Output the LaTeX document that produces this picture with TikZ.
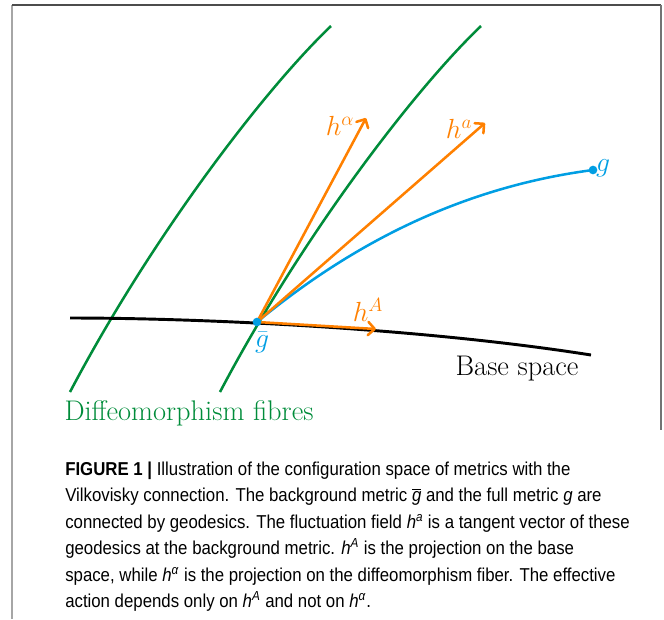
\documentclass[tikz,border=0pt]{standalone}
\usepackage{fontspec}
\newfontfamily\capfont[FakeStretch=0.9]{Liberation Sans}
\usetikzlibrary{arrows.meta}
\definecolor{fibgreen}{RGB}{0,140,58}
\definecolor{geoblue}{RGB}{0,158,227}
\definecolor{vecorange}{RGB}{255,128,0}
\begin{document}
\begin{tikzpicture}[x=0.75pt,y=-0.75pt,
  fibre/.style={draw=fibgreen,line width=1.9pt},
  baseline/.style={draw=black,line width=2.2pt},
  geo/.style={draw=geoblue,line width=1.9pt},
  vec/.style={draw=vecorange,line width=1.9pt,line cap=round,-{Straight Barb[length=5pt,width=10pt,line cap=round,line join=round]}},
  lbl/.style={inner sep=0pt,font=\fontsize{21.3}{25}\selectfont},
  capline/.style={anchor=base west,inner sep=0pt,font=\capfont\fontsize{14}{17}\selectfont},
  dotb/.style={circle,fill=geoblue,inner sep=0pt,minimum size=6.5pt}]
\useasboundingbox (0,0) rectangle (664,619);
% frame
\draw[draw=black!35,line width=1.5pt] (12,5) -- (12,619);
\draw[draw=black!70,line width=1.3pt] (12,5) -- (661,5);
\draw[draw=black!55,line width=1.2pt] (661,5) -- (661,430);
% points (positions)
\coordinate (gbc) at (257,322);
\coordinate (gc) at (593,170);
% fibres
\draw[fibre] (70,392) .. controls (150,240) and (262,92) .. (331,26);
\draw[fibre] (220,392) .. controls (300,240) and (412,92) .. (481,26);
% base space
\draw[baseline] (70,318) .. controls (200,318) and (420,328) .. (591,355);
% geodesic
\draw[geo] (gbc) .. controls (330,262) and (440,190) .. (gc);
% vectors
\coordinate (tal) at (366,118);
\coordinate (ta) at (485,123);
\coordinate (tA) at (376,329);
\draw[vec] (gbc) -- (tal);
\draw[vec] (gbc) -- (ta);
\draw[vec] (gbc) -- (tA);
% dots on top
\node[dotb] (gb) at (gbc) {};
\node[dotb] (g) at (gc) {};
% labels
\node[lbl,text=vecorange] (lal) at (340,126) {$h^{\alpha}$};
\node[lbl,text=vecorange] (la) at (459,129) {$h^{a}$};
\node[lbl,text=vecorange] (lA) at (368,310) {$h^{A}$};
\node[lbl,text=geoblue] (lgb) at (262,342) {$\bar g$};
\node[lbl,text=geoblue] (lg) at (603,168) {$g$};
\node[lbl] (lbase) at (517,369) {Base space};
\node[lbl,text=fibgreen] (lfib) at (189,413) {Diffeomorphism fibres};
% caption
\node[capline] (c1) at (65,475) {\textbf{FIGURE 1 |} Illustration of the configuration space of metrics with the};
\node[capline] (c2) at (65,501) {Vilkovisky connection. The background metric $\overline{\hbox{\itshape g}}$ and the full metric \textit{g} are};
\node[capline] (c3) at (65,528) {connected by geodesics. The fluctuation field \textit{h}\textsuperscript{\textit{a}} is a tangent vector of these};
\node[capline] (c4) at (65,554) {geodesics at the background metric. \textit{h}\textsuperscript{\textit{A}} is the projection on the base};
\node[capline] (c5) at (65,581) {space, while \textit{h}\textsuperscript{\textit{α}} is the projection on the diffeomorphism fiber. The effective};
\node[capline] (c6) at (65,607) {action depends only on \textit{h}\textsuperscript{\textit{A}} and not on \textit{h}\textsuperscript{\textit{α}}.};
\end{tikzpicture}
\end{document}
